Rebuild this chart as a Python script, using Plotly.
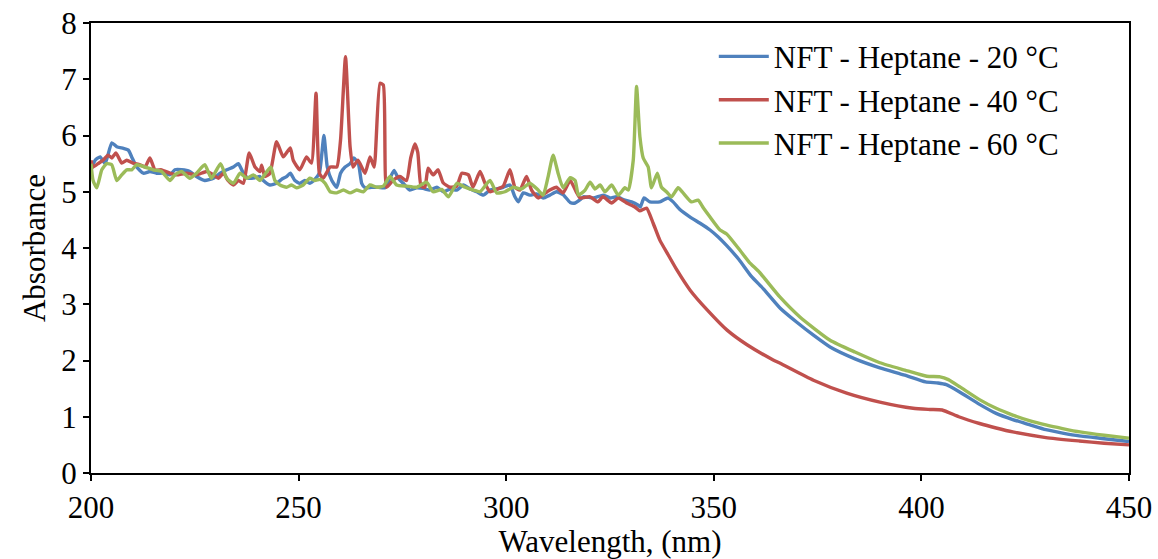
import plotly.graph_objects as go

# ---------------- data ----------------
x_20 = [200, 201, 202.2, 203.4, 205, 206.2, 207.8, 209, 209.8, 211, 212.6, 214.2, 215.8, 217.4, 219, 220.2,
        221.8, 223.8, 225.4, 227.4, 229.5, 231.1, 232.7, 234.3, 235.5, 236.7, 237.9, 239.5, 240.7, 241.5,
        243.1, 244.7, 245.9, 247.1, 248, 249.1, 250.3, 251.5, 252.7, 253.9, 255, 256.1, 256.9, 258, 259.2,
        260.1, 261.2, 262.4, 263.3, 264.4, 265.2, 266, 267.6, 269.2, 270.8, 272, 273, 274, 275.2, 276.8,
        278.4, 280, 281.6, 283.3, 284.9, 286.5, 288.1, 289.7, 291.3, 292.9, 294.5, 296.1, 297.7, 299.3,
        300.9, 302.1, 302.9, 304.1, 305.7, 307.3, 308.9, 310.5, 312.1, 313.7, 315.4, 316.6, 317.8, 318.6,
        321, 323.4, 325, 326.6, 328.6, 330.2, 331.8, 332.3, 333.2, 334.6, 337, 339, 340.2, 341.9, 344.3,
        346.7, 349.1, 351, 353, 356, 359, 362, 366, 370, 374, 378, 384, 390, 396, 401, 404, 406, 409, 414,
        418, 422, 426, 430, 434, 438, 444, 450]
y_20 = [5.39, 5.56, 5.62, 5.5, 5.87, 5.8, 5.77, 5.74, 5.62, 5.44, 5.33, 5.36, 5.33, 5.33, 5.3, 5.39,
        5.39, 5.36, 5.27, 5.2, 5.24, 5.33, 5.39, 5.44, 5.5, 5.33, 5.24, 5.25, 5.27, 5.2,
        5.12, 5.15, 5.22, 5.27, 5.33, 5.2, 5.15, 5.2, 5.15, 5.22, 5.33, 6.0, 5.44, 5.2, 5.08,
        5.33, 5.44, 5.5, 5.6, 5.5, 5.15, 5.07, 5.08, 5.08, 5.07, 5.24, 5.38, 5.24, 5.15, 5.03,
        5.07, 5.06, 5.03, 5.08, 5.0, 5.05, 5.03, 5.12, 5.05, 5.0, 4.94, 5.03, 5.05, 5.08,
        5.12, 4.91, 4.82, 4.98, 4.94, 4.96, 4.89, 4.94, 5.0, 4.95, 4.81, 4.8, 4.86, 4.91,
        4.89, 4.94, 4.89, 4.91, 4.85, 4.82, 4.76, 4.73, 4.89, 4.82, 4.82, 4.89, 4.82, 4.68, 4.55,
        4.44, 4.32, 4.2, 4.05, 3.8, 3.5, 3.27, 2.93, 2.68, 2.45, 2.24, 2.03, 1.87, 1.74, 1.62, 1.6, 1.57, 1.45, 1.22,
        1.06, 0.95, 0.86, 0.77, 0.71, 0.66, 0.61, 0.56]

x_40 = [200, 200.5, 201.7, 202.9, 204.1, 205, 206, 207.4, 208.6, 210.1, 211.8, 213, 214.2, 215.4, 217,
        219, 220.6, 223, 225.4, 227.9, 229.5, 230.7, 231.9, 233, 234.3, 235.5, 236.7, 238.1, 239.5, 240.7,
        241.1, 241.9, 243.1, 244.7, 246.3, 248, 248.7, 250.3, 251.9, 253.1, 254.2, 255, 255.9, 257.6, 259.2,
        260.1, 261.3, 262.4, 263.1, 264.3, 266, 267.2, 268.2, 269.6, 270.4, 271.2, 272.7, 274.4, 276, 277,
        278, 278.7, 279.5, 280.4, 281.2, 282.4, 283.6, 284.8, 286.5, 288.1, 289.3, 290.9, 292, 293.7, 294.9,
        296.1, 297.7, 299.3, 300.9, 302.1, 303.3, 304.9, 306.1, 307.7, 308.9, 310.5, 312.1, 313.7, 315.4,
        317, 317.8, 320.2, 322.1, 323.3, 325.4, 327, 329, 331, 332.2, 333.8, 335.4, 337, 339, 341.1, 344.3,
        348.4, 353.2, 358, 364.3, 366, 374, 382, 390, 398, 402, 405, 409, 414, 418, 422, 430, 438, 444, 450]
y_40 = [5.56, 5.44, 5.5, 5.56, 5.65, 5.6, 5.69, 5.51, 5.56, 5.51, 5.48, 5.44, 5.6, 5.39, 5.39,
        5.33, 5.3, 5.33, 5.3, 5.36, 5.3, 5.24, 5.33, 5.2, 5.12, 5.2, 5.15, 5.69, 5.44, 5.36,
        5.47, 5.27, 5.33, 5.89, 5.62, 5.78, 5.56, 5.39, 5.62, 5.51, 6.75, 5.33, 5.24, 5.44, 5.44,
        5.92, 7.4, 5.8, 5.44, 5.56, 5.33, 5.62, 5.44, 6.93, 6.9, 5.08, 5.2, 5.27, 5.2, 5.6,
        5.85, 5.7, 5.1, 5.08, 5.42, 5.3, 5.39, 5.16, 5.08, 5.1, 5.33, 5.3, 5.08, 5.36, 5.15,
        5.0, 5.04, 5.1, 5.39, 5.08, 5.03, 5.27, 5.03, 4.89, 4.95, 5.03, 5.08, 4.98, 5.2,
        4.98, 4.89, 4.91, 4.82, 4.91, 4.8, 4.89, 4.8, 4.73, 4.66, 4.71, 4.44, 4.14, 3.88, 3.61, 3.25,
        2.9, 2.54, 2.28, 2.01, 1.95, 1.65, 1.42, 1.26, 1.15, 1.13, 1.12, 1.0, 0.88, 0.8, 0.73, 0.63, 0.57, 0.53, 0.5]

x_60 = [200, 200.5, 201.4, 202.6, 203.8, 205, 206.2, 207.4, 208.6, 209.8, 211, 213, 215, 217, 219, 220.2,
        221.8, 223.8, 225.4, 227.4, 229, 231.2, 232.7, 234.3, 235.9, 237.5, 239.1, 240.7, 241.5, 243.3,
        244.3, 245.5, 247.1, 248.3, 249.5, 251.1, 252.7, 253.9, 255.2, 256.4, 257.6, 259.2, 260.8, 262.4,
        264, 265.6, 267.2, 268.8, 270.4, 272, 273.6, 276, 278.4, 280.8, 282.4, 284.5, 286.1, 288.1, 290.1,
        292.1, 293.7, 296.1, 297.7, 299.7, 301.7, 303.7, 305.7, 307.7, 308.9, 310.1, 311.3, 312.5, 313.7,
        315.4, 316.6, 317.4, 319, 320.2, 321.4, 322.6, 323.8, 325.4, 327, 328.6, 329.4, 330.6, 331.4, 332.2,
        333, 334.2, 335, 336.4, 337.4, 338.6, 339.8, 341.4, 342.6, 344.6, 346.2, 347.5, 349.1, 351.5, 353.1,
        356.3, 358.5, 361.1, 365.9, 370.8, 378, 384, 390, 396, 401.3, 404.5, 406.5, 409.3, 414.1, 418, 422,
        426, 430.2, 434, 438.2, 444, 450]
y_60 = [5.5, 5.2, 5.07, 5.39, 5.5, 5.48, 5.2, 5.3, 5.39, 5.39, 5.48, 5.44, 5.39, 5.36, 5.2, 5.3,
        5.36, 5.24, 5.33, 5.48, 5.24, 5.5, 5.24, 5.15, 5.33, 5.24, 5.3, 5.2, 5.27, 5.44,
        5.2, 5.12, 5.08, 5.12, 5.07, 5.12, 5.24, 5.2, 5.22, 5.15, 5.0, 4.98, 5.03, 4.98,
        5.03, 5.0, 5.12, 5.08, 5.1, 5.27, 5.12, 5.1, 5.08, 5.17, 5.0, 5.04, 4.91, 5.15, 5.08,
        5.03, 5.0, 5.2, 4.98, 5.0, 5.08, 5.05, 5.15, 5.03, 4.94, 5.27, 5.65, 5.33, 5.07,
        5.25, 5.2, 4.94, 5.03, 5.17, 5.05, 5.12, 5.0, 5.12, 4.94, 5.07, 5.03, 5.56, 6.87, 5.98,
        5.6, 5.44, 5.07, 5.33, 5.08, 5.0, 4.91, 5.07, 4.98, 4.82, 4.85, 4.71, 4.55, 4.32, 4.25,
        3.96, 3.75, 3.56, 3.13, 2.77, 2.36, 2.15, 1.96, 1.83, 1.72, 1.71, 1.66, 1.53, 1.3, 1.15, 1.03,
        0.93, 0.85, 0.79, 0.73, 0.67, 0.62]

names = ["NFT - Heptane - 20 \u00b0C", "NFT - Heptane - 40 \u00b0C", "NFT - Heptane - 60 \u00b0C"]
colors = ["#4F81BD", "#C0504D", "#9BBB59"]

x_ticks = [200, 250, 300, 350, 400, 450]
y_ticks = [0, 1, 2, 3, 4, 5, 6, 7, 8]

# ---------------- figure ----------------
FONT = "Liberation Serif, Times New Roman, serif"
FS = 31
fig = go.Figure()
for xs, ys, nm, col in zip([x_20, x_40, x_60], [y_20, y_40, y_60], names, colors):
    fig.add_trace(go.Scatter(x=xs, y=ys, mode="lines", name=nm,
                             line=dict(color=col, width=3.4, shape="spline", smoothing=0.5)))

axis_common = dict(showline=True, linecolor="black", linewidth=2, mirror=True,
                   ticks="outside", ticklen=6, tickwidth=2, tickcolor="black",
                   showgrid=False, zeroline=False, automargin=False,
                   tickfont=dict(family=FONT, size=FS, color="black"))

fig.update_layout(
    width=1158, height=559,
    margin=dict(l=91, r=29, t=23, b=86),
    paper_bgcolor="white", plot_bgcolor="white",
    font=dict(family=FONT, size=FS, color="black"),
    xaxis=dict(range=[200, 450], tickvals=x_ticks,
               title=dict(text="Wavelength, (nm)", font=dict(family=FONT, size=FS), standoff=0),
               **axis_common),
    yaxis=dict(range=[0, 8], tickvals=y_ticks,
               title=dict(text="Absorbance", font=dict(family=FONT, size=FS), standoff=6),
               **axis_common),
    legend=dict(x=0.6, y=0.985, xanchor="left", yanchor="top",
                bgcolor="rgba(0,0,0,0)", font=dict(family=FONT, size=FS),
                itemwidth=50, tracegroupgap=0),
    showlegend=True,
)

fig.write_html("out.html")
